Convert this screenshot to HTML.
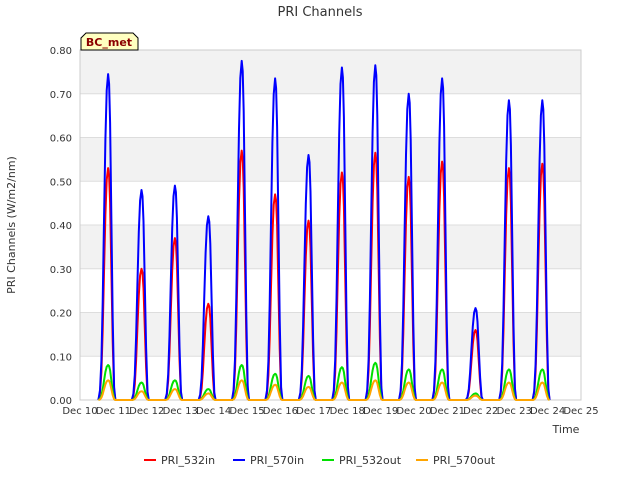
<!DOCTYPE html>
<html><head><meta charset="utf-8"><style>
body{margin:0;background:#fff;font-family:"Liberation Sans","DejaVu Sans",sans-serif}
</style></head><body>
<svg width="640" height="480" xmlns="http://www.w3.org/2000/svg" font-family="DejaVu Sans, Liberation Sans, sans-serif">
<text x="320" y="16" text-anchor="middle" font-size="13" fill="#333">PRI Channels</text>
<g id="plot"></g>
<text x="15" y="225" transform="rotate(-90 15 225)" text-anchor="middle" font-size="11" fill="#333">PRI Channels (W/m2/nm)</text>
<text x="566" y="433" text-anchor="middle" font-size="11" fill="#333">Time</text>
<g>
<path d="M81,50 L81,38 L86,33 L133,33 L138,38 L138,50 Z" fill="#ffffc0" stroke="#000" stroke-width="1"/>
<text x="109" y="46" text-anchor="middle" font-size="11" font-weight="bold" fill="#8b0000">BC_met</text>
</g>
<g id="legend"></g>
</svg>
<script>
const days=[0,1,2,3,4,5,6,7,8,9,10,11,12,13];
const seriesNames=["PRI_532in","PRI_570in","PRI_532out","PRI_570out"];
const seriesColors=["#ff0000","#0000ff","#00e000","#ffa500"];
const peak532in=[0.53,0.30,0.37,0.22,0.57,0.47,0.41,0.52,0.565,0.51,0.545,0.16,0.53,0.54];
const peak570in=[0.745,0.48,0.49,0.42,0.775,0.735,0.56,0.76,0.765,0.70,0.735,0.21,0.685,0.685];
const peak532out=[0.08,0.04,0.045,0.025,0.08,0.06,0.055,0.075,0.085,0.07,0.07,0.015,0.07,0.07];
const peak570out=[0.045,0.02,0.025,0.015,0.045,0.035,0.03,0.04,0.045,0.04,0.04,0.01,0.04,0.04];
const profileT=[0.55,0.60,0.64,0.68,0.72,0.76,0.80,0.84,0.87,0.90,0.94,0.98,1.02,1.06];
const profileV=[0,0.03,0.12,0.3,0.55,0.8,0.95,1,0.97,0.85,0.55,0.25,0.04,0];
const yTicks=[0,0.1,0.2,0.3,0.4,0.5,0.6,0.7,0.8];
const xTickLabels=["Dec 10","Dec 11","Dec 12","Dec 13","Dec 14","Dec 15","Dec 16","Dec 17","Dec 18","Dec 19","Dec 20","Dec 21","Dec 22","Dec 23","Dec 24","Dec 25"];
const NS="http://www.w3.org/2000/svg";
const L=80,R=581,T=50,B=400;
const xs=d=>L+d*(R-L)/15;
const ys=v=>B-v*(B-T)/0.8;
const plot=document.getElementById('plot');
function mk(tag,attrs,parent){const e=document.createElementNS(NS,tag);for(const k in attrs)e.setAttribute(k,attrs[k]);parent.appendChild(e);return e;}
for(let i=0;i<yTicks.length-1;i++){
 const r=mk('rect',{x:L,y:ys(yTicks[i+1]),width:R-L,height:ys(yTicks[i])-ys(yTicks[i+1]),fill:i%2?'#f2f2f2':'#ffffff'},plot);
 
 
}
yTicks.forEach(v=>{
 const g=mk('line',{x1:L,x2:R,y1:ys(v),y2:ys(v),stroke:'#dddddd','stroke-width':1},plot);
 
 
 const t=mk('text',{x:L-8,y:ys(v)+4,'text-anchor':'end','font-size':10,fill:'#333'},plot);
 t.textContent=v.toFixed(2);
 
 
});
xTickLabels.forEach((s,i)=>{
 const t=mk('text',{x:xs(i),y:414,'text-anchor':'middle','font-size':10,fill:'#333'},plot);
 t.textContent=s;
 
 
});
const fr=mk('rect',{x:L,y:T,width:R-L,height:B-T,fill:'none',stroke:'#cccccc'},plot);


const peaks=[peak532in,peak570in,peak532out,peak570out];
peaks.forEach((pk,si)=>{
 let pts=[];
 days.forEach((d,di)=>{profileT.forEach((t,k)=>{pts.push([xs(d+t),ys(pk[di]*profileV[k])]);});});
 const p=mk('polyline',{points:pts.map(q=>q[0].toFixed(1)+','+q[1].toFixed(1)).join(' '),fill:'none',stroke:seriesColors[si],'stroke-width':2,'stroke-linejoin':'round'},plot);
 
 
});
const leg=document.getElementById('legend');
const lx=[144,233,322,416];
seriesNames.forEach((n,i)=>{
 const g=mk('g',{},leg);
 
 
 mk('line',{x1:lx[i],x2:lx[i]+12,y1:460,y2:460,stroke:seriesColors[i],'stroke-width':2},g);
 const t=mk('text',{x:lx[i]+17,y:464,'font-size':11,fill:'#333'},g);
 t.textContent=n;
});
</script>
</body></html>
